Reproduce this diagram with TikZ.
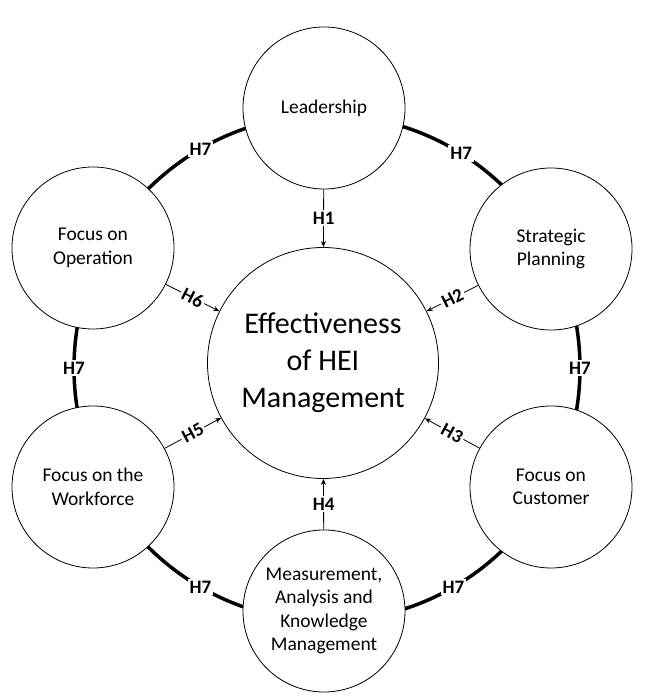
\documentclass[tikz,border=0pt]{standalone}
\usepackage{fontspec}
\setmainfont{Carlito}
\usetikzlibrary{arrows.meta, positioning, calc}

\begin{document}
\begin{tikzpicture}[x=1pt,y=1pt,line width=0.8pt,
  every node/.style={font=\fontsize{19.5}{23.5}\selectfont},
  area/.style={draw, circle, fill=white, minimum size=162pt, inner sep=0pt, align=center},
  hyp/.style={font=\fontsize{19}{22}\selectfont\bfseries, fill=white, inner sep=2pt},
  link/.style={-{Stealth[length=6pt,width=5pt]}}]
  \useasboundingbox (0,0) rectangle (645,700);
  % H7 ring, drawn first so the circles cover it
  \coordinate (ring) at (327,332);
  \draw[line width=3.5pt] (ring) circle (253);
  \node[area, minimum size=231pt, font=\fontsize{30}{37}\selectfont] (eff) at (323,337) {Effectiveness\\of HEI\\Management};
  \node[area] (lead) at (324,592) {Leadership};
  \node[area] (strat) at (551,451) {Strategic\\Planning};
  \node[area] (cust) at (551,213) {Focus on\\Customer};
  \node[area] (meas) at (324,89) {Measurement,\\Analysis and\\Knowledge\\Management};
  \node[area] (work) at (93,213) {Focus on the\\Workforce};
  \node[area] (oper) at (93,452) {Focus on\\Operation};
  % hypotheses H1--H6
  \draw[link] (lead) -- node[hyp]{H1} (eff);
  \draw[link] (strat) -- node[hyp, sloped]{H2} (eff);
  \draw[link] (cust) -- node[hyp, sloped]{H3} (eff);
  \draw[link] (meas) -- node[hyp]{H4} (eff);
  \draw[link] (work) -- node[hyp, sloped]{H5} (eff);
  \draw[link] (oper) -- node[hyp, sloped]{H6} (eff);
  \foreach \a in {0,58,120,180,240,300}
    \node[hyp] at ([shift={(\a:253)}]ring) {H7};
\end{tikzpicture}
\end{document}
